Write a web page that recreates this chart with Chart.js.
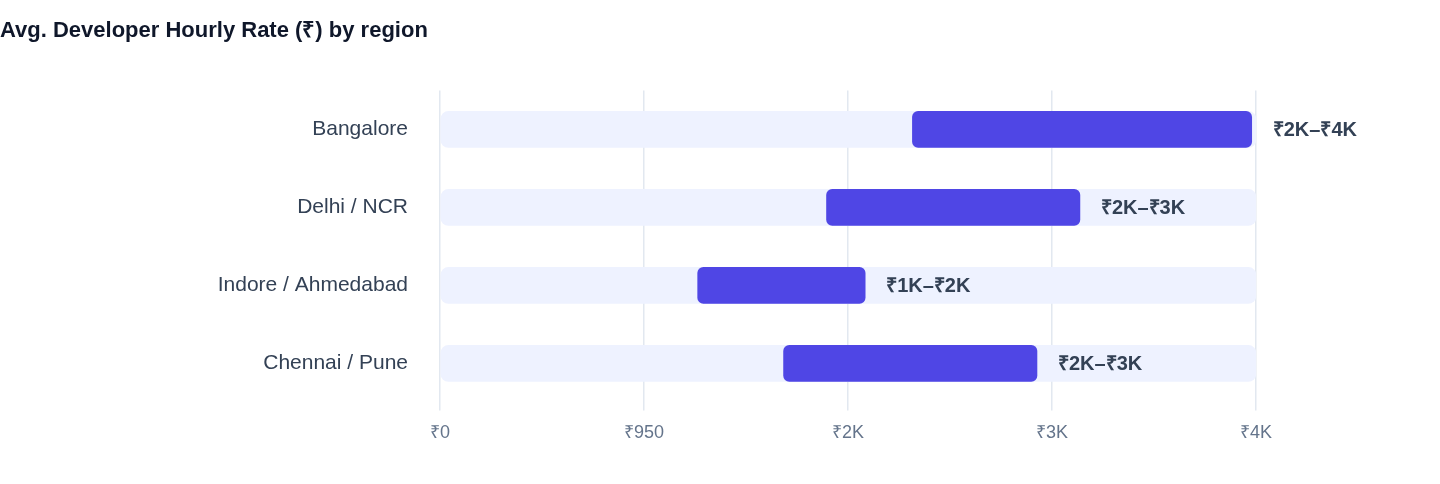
<!DOCTYPE html>
<html><head><meta charset="utf-8">
<script src="https://cdn.jsdelivr.net/npm/chart.js@4/dist/chart.umd.min.js"></script>
<style>html,body{margin:0;padding:0;background:#fff}#wrap{width:1440px;height:484px;position:relative}</style>
</head><body><div id="wrap"><canvas id="c"></canvas></div>
<script>
const regions = ["Bangalore","Delhi / NCR","Indore / Ahmedabad","Chennai / Pune"];
const lows  = [2200, 1800, 1200, 1600];
const highs = [3780, 2980, 1980, 2780];
const rangeLabels = ["₹2K–₹4K","₹2K–₹3K","₹1K–₹2K","₹2K–₹3K"];
const axisMax = 3800;
const tickStep = 950;

function fmt(v){ return v===0?'₹0':(v<1000?'₹'+v:'₹'+Math.round(v/1000)+'K'); }

const labelPlugin = {
  id:'endLabels',
  afterDatasetsDraw(chart){
    const ctx = chart.ctx, meta = chart.getDatasetMeta(1);
    ctx.save();
    ctx.font = 'bold 20px "Helvetica Neue", Arial, "Liberation Sans", sans-serif';
    ctx.fillStyle = '#334155'; ctx.textBaseline='middle'; ctx.textAlign='left';
    meta.data.forEach((b,i)=>{ ctx.fillText(rangeLabels[i], b.x+21, b.y+1); });
    ctx.restore();
  }
};

new Chart(document.getElementById('c'), {
  type:'bar',
  data:{ labels: regions, datasets:[
    { data: regions.map(()=>[0,axisMax]), backgroundColor:'#EEF2FF', borderRadius:8, borderSkipped:false, grouped:false, barThickness:36, order:2 },
    { data: regions.map((r,i)=>[lows[i],highs[i]]), backgroundColor:'#4F46E5', borderRadius:6, borderSkipped:false, grouped:false, barThickness:36, order:1 }
  ]},
  options:{
    indexAxis:'y', responsive:true, maintainAspectRatio:false, animation:false,
    layout:{ padding:{ left:0, right:184, top:0, bottom:28 } },
    plugins:{
      legend:{display:false}, tooltip:{enabled:false},
      title:{ display:true, text:'Avg. Developer Hourly Rate (₹) by region', align:'start',
        color:'#0f172a', font:{ size:22, weight:'bold', family:'"Helvetica Neue", Arial, "Liberation Sans", sans-serif' },
        padding:{ top:18, bottom:46 } }
    },
    scales:{
      x:{ min:0, max:axisMax, ticks:{ stepSize:tickStep, callback:v=>fmt(v), color:'#64748b', padding:12,
            font:{ size:18, family:'"Helvetica Neue", Arial, "Liberation Sans", sans-serif' } },
          grid:{ color:'#e2e8f0', lineWidth:1.5, tickLength:8 }, border:{ display:false } },
      y:{ ticks:{ color:'#334155', padding:24, font:{ size:21, family:'"Helvetica Neue", Arial, "Liberation Sans", sans-serif' } },
          grid:{ display:false }, border:{ display:false },
          afterFit(s){ s.width = 440; } }
    }
  },
  plugins:[labelPlugin]
});
</script></body></html>
